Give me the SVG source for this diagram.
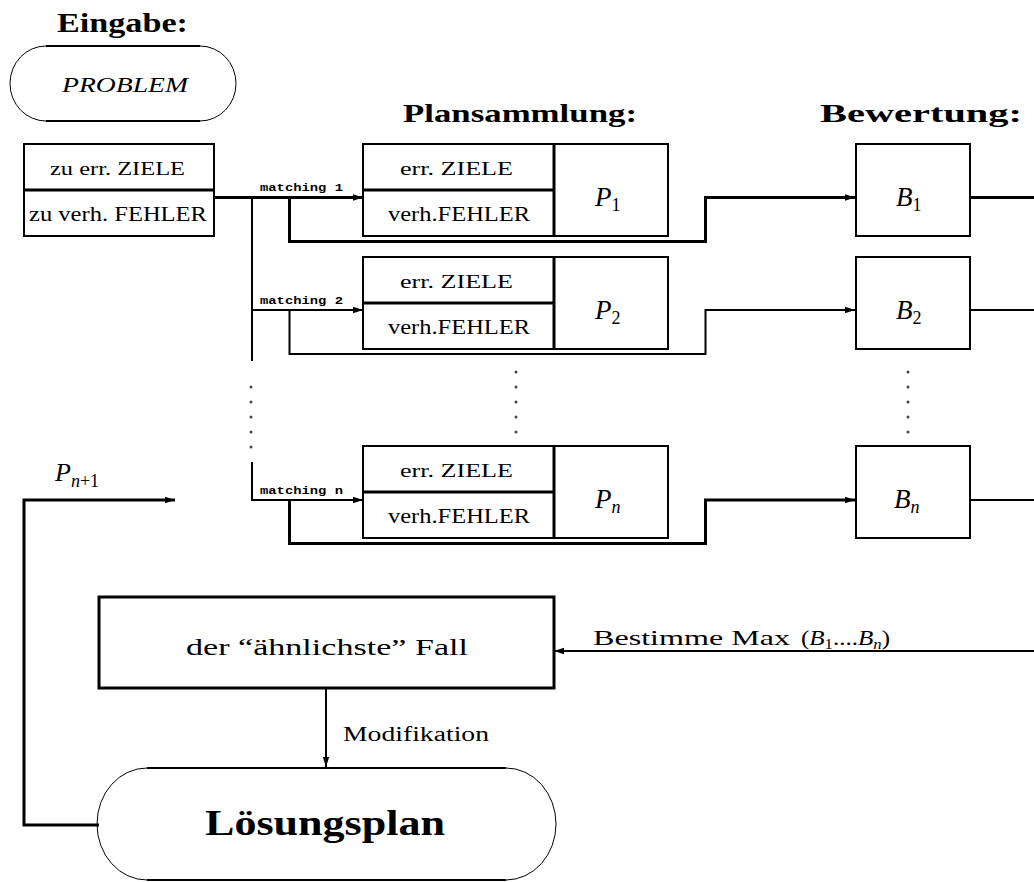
<svg xmlns="http://www.w3.org/2000/svg" width="1034" height="882" viewBox="0 0 1034 882">
<style>
.t{font-family:"Liberation Serif",serif;fill:#000}
.b{font-weight:bold}
.i{font-style:italic}
.m{font-family:"Liberation Mono",monospace;font-weight:bold;font-size:10px}
.box{fill:#fff;stroke:#000;stroke-width:2}
.div{stroke:#000;stroke-width:3;fill:none}
.c1{stroke:#000;stroke-width:3;fill:none}
.c2{stroke:#000;stroke-width:2;fill:none}
.dot{fill:#444}
</style>
<defs>
<marker id="ah" markerUnits="userSpaceOnUse" markerWidth="10" markerHeight="8" refX="10" refY="4" orient="auto">
<path d="M0,0.8 L10,4 L0,7.2 z" fill="#000"/>
</marker>
</defs>
<rect width="1034" height="882" fill="#fff"/>

<g id="headers">
<text class="t b" x="57" y="32" font-size="28" textLength="131" lengthAdjust="spacingAndGlyphs">Eingabe:</text>
<text class="t b" x="403" y="122" font-size="26" textLength="234" lengthAdjust="spacingAndGlyphs">Plansammlung:</text>
<text class="t b" x="820" y="122" font-size="26" textLength="202" lengthAdjust="spacingAndGlyphs">Bewertung:</text>
</g>

<g id="connectors">
<path class="c1" d="M214,197.5 H363" marker-end="url(#ah)"/>
<path class="c2" d="M252,197.5 V361"/>
<path class="c2" d="M252,462 V500 H363" marker-end="url(#ah)"/>
<path class="c2" d="M252,310 H363" marker-end="url(#ah)"/>
<path class="c1" d="M289.5,197.5 V241.5 H705.5 V197.5 H855" marker-end="url(#ah)"/>
<path class="c1" d="M970,197.5 H1034"/>
<path class="c2" d="M289.5,310 V354 H705.5 V310 H855" marker-end="url(#ah)"/>
<path class="c2" d="M970,310 H1034"/>
<path class="c1" d="M289.5,500 V543.5 H705.5 V500 H855" marker-end="url(#ah)"/>
<path class="c2" d="M970,500 H1034"/>
<path class="c2" d="M1034,651 H554" marker-end="url(#ah)"/>
<path class="c2" d="M326,688 V767" marker-end="url(#ah)"/>
<path class="c1" d="M99,825 H24 V500 H175" marker-end="url(#ah)"/>
<text class="m" x="260" y="191" textLength="83" lengthAdjust="spacingAndGlyphs">matching 1</text>
<text class="m" x="260" y="304" textLength="83" lengthAdjust="spacingAndGlyphs">matching 2</text>
<text class="m" x="260" y="494" textLength="83" lengthAdjust="spacingAndGlyphs">matching n</text>
<text class="t" x="593" y="645" font-size="21" textLength="197" lengthAdjust="spacingAndGlyphs">Bestimme Max</text>
<text class="t" x="801" y="645" font-size="21" textLength="89" lengthAdjust="spacingAndGlyphs">(<tspan class="i">B</tspan><tspan font-size="14" dy="4">1</tspan><tspan dy="-4">....</tspan><tspan class="i">B</tspan><tspan class="i" font-size="14" dy="4">n</tspan><tspan dy="-4">)</tspan></text>
<text class="t" x="343" y="741" font-size="20" textLength="146" lengthAdjust="spacingAndGlyphs">Modifikation</text>
<text class="t i" x="55" y="481" font-size="26">P<tspan font-size="18" dy="6">n</tspan><tspan font-size="18" font-style="normal">+1</tspan></text>
</g>

<g id="dots">
<circle class="dot" cx="251" cy="387" r="1.5"/><circle class="dot" cx="251" cy="402" r="1.5"/><circle class="dot" cx="251" cy="417" r="1.5"/><circle class="dot" cx="251" cy="432" r="1.5"/><circle class="dot" cx="251" cy="447" r="1.5"/>
<circle class="dot" cx="516" cy="372" r="1.5"/><circle class="dot" cx="516" cy="387" r="1.5"/><circle class="dot" cx="516" cy="402" r="1.5"/><circle class="dot" cx="516" cy="417" r="1.5"/><circle class="dot" cx="516" cy="432" r="1.5"/>
<circle class="dot" cx="908" cy="372" r="1.5"/><circle class="dot" cx="908" cy="387" r="1.5"/><circle class="dot" cx="908" cy="402" r="1.5"/><circle class="dot" cx="908" cy="417" r="1.5"/><circle class="dot" cx="908" cy="432" r="1.5"/>
</g>

<g id="problem">
<path d="M200,121 A36,37.5 0 0 0 200,46 M46,46 A36,37.5 0 0 0 46,121" fill="none" stroke="#000" stroke-width="1"/>
<path d="M46,46 H200 M46,121 H200" stroke="#000" stroke-width="2.2"/>
<text class="t i" x="62" y="92" font-size="20" textLength="126" lengthAdjust="spacingAndGlyphs">PROBLEM</text>
</g>

<g id="input">
<rect class="box" x="24" y="144" width="190" height="92"/>
<line class="div" x1="24" y1="190" x2="214" y2="190"/>
<text class="t" x="50" y="175" font-size="18" textLength="135" lengthAdjust="spacingAndGlyphs">zu err. ZIELE</text>
<text class="t" x="29" y="221" font-size="21" textLength="178" lengthAdjust="spacingAndGlyphs">zu verh. FEHLER</text>
</g>

<g id="plan1">
<rect class="box" x="363" y="144" width="305" height="92"/>
<line class="div" x1="554" y1="144" x2="554" y2="236"/>
<line class="div" x1="363" y1="190" x2="554" y2="190"/>
<text class="t" x="400" y="175" font-size="18" textLength="113" lengthAdjust="spacingAndGlyphs">err. ZIELE</text>
<text class="t" x="388" y="221" font-size="20" textLength="142" lengthAdjust="spacingAndGlyphs">verh.FEHLER</text>
<text class="t i" x="595" y="206" font-size="27">P<tspan font-size="18" font-style="normal" dy="5">1</tspan></text>
</g>

<g id="plan2">
<rect class="box" x="363" y="257" width="305" height="92"/>
<line class="div" x1="554" y1="257" x2="554" y2="349"/>
<line class="div" x1="363" y1="303" x2="554" y2="303"/>
<text class="t" x="400" y="288" font-size="18" textLength="113" lengthAdjust="spacingAndGlyphs">err. ZIELE</text>
<text class="t" x="388" y="334" font-size="20" textLength="142" lengthAdjust="spacingAndGlyphs">verh.FEHLER</text>
<text class="t i" x="595" y="319" font-size="27">P<tspan font-size="18" font-style="normal" dy="5">2</tspan></text>
</g>

<g id="plann">
<rect class="box" x="363" y="446" width="305" height="92"/>
<line class="div" x1="554" y1="446" x2="554" y2="538"/>
<line class="div" x1="363" y1="492" x2="554" y2="492"/>
<text class="t" x="400" y="477" font-size="18" textLength="113" lengthAdjust="spacingAndGlyphs">err. ZIELE</text>
<text class="t" x="388" y="523" font-size="20" textLength="142" lengthAdjust="spacingAndGlyphs">verh.FEHLER</text>
<text class="t i" x="595" y="508" font-size="27">P<tspan font-size="18" dy="5">n</tspan></text>
</g>

<g id="b1">
<rect class="box" x="856" y="144" width="114" height="92"/>
<text class="t i" x="896" y="206" font-size="27">B<tspan font-size="18" font-style="normal" dy="5">1</tspan></text>
</g>
<g id="b2">
<rect class="box" x="856" y="257" width="114" height="92"/>
<text class="t i" x="896" y="319" font-size="27">B<tspan font-size="18" font-style="normal" dy="5">2</tspan></text>
</g>
<g id="bn">
<rect class="box" x="856" y="446" width="114" height="92"/>
<text class="t i" x="894" y="508" font-size="27">B<tspan font-size="18" dy="5">n</tspan></text>
</g>

<g id="similar">
<rect x="99" y="597" width="455" height="91" fill="#fff" stroke="#000" stroke-width="3"/>
<text class="t" x="186" y="655" font-size="23" textLength="282" lengthAdjust="spacingAndGlyphs">der “ähnlichste” Fall</text>
</g>

<g id="solution">
<path d="M506,880 A50,56 0 0 0 506,768 M147,768 A50,56 0 0 0 147,880" fill="none" stroke="#000" stroke-width="1"/>
<path d="M147,768 H506 M147,880 H506" stroke="#000" stroke-width="2.2"/>
<text class="t b" x="205" y="835" font-size="35" textLength="240" lengthAdjust="spacingAndGlyphs">Lösungsplan</text>
</g>
</svg>
